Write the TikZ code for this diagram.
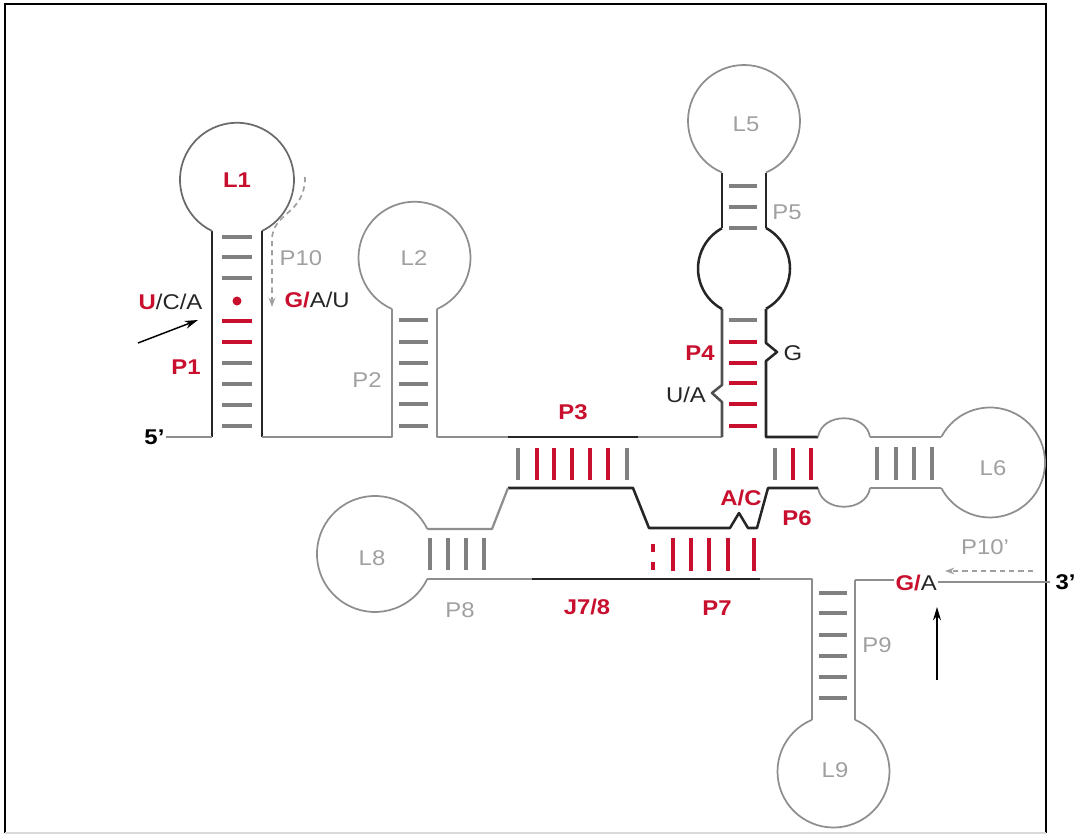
\documentclass[tikz,border=0pt]{standalone}
\usepackage{fontspec}
\setmainfont{Liberation Sans}[FakeStretch=1.12]
\usetikzlibrary{positioning, arrows.meta}
\definecolor{rred}{HTML}{C8102E}
\definecolor{lgrey}{HTML}{8E8E8E}
\definecolor{mgrey}{HTML}{6A6A6A}
\definecolor{tgrey}{HTML}{A0A0A0}
\definecolor{dgrey}{HTML}{262626}
\newcommand{\lblfont}{\fontsize{16}{18}\selectfont}

\begin{document}
\begin{tikzpicture}[x=0.75pt, y=-0.75pt,
  strand/.style={lgrey, line width=1.7pt, line join=round},
  core/.style={dgrey, line width=1.9pt, line join=round},
  loopline/.style={lgrey, line width=1.3pt},
  bp/.style={lgrey!90!black, line width=2.4pt},
  rbp/.style={rred, line width=2.6pt},
  glab/.style={font=\lblfont, text=tgrey, inner sep=1pt},
  rlab/.style={font=\lblfont\bfseries, text=rred, inner sep=1pt},
  klab/.style={font=\lblfont, text=dgrey, inner sep=1pt},
  endlab/.style={font=\lblfont\bfseries, text=black, inner sep=1pt},
  hint/.style={tgrey, line width=1.3pt, dash pattern=on 4pt off 3pt},
]
\useasboundingbox (0,0) rectangle (1081,835);
% frame
\draw[black, line width=1.6pt] (5,833) -- (5,4) -- (1046,4) -- (1046,833);
\draw[black!15, line width=1pt] (5,833) -- (1046,833);

% junction points
\coordinate (tail5) at (170,437);
\coordinate (p1l) at (212,437);
\coordinate (p1r) at (262,437);
\coordinate (p9top) at (855,580);
\coordinate (tail3) at (1050,582);

% P1 / L1
\draw[core] (p1l) -- (212,231);
\draw[mgrey, line width=1.3pt] (212,231) arc[start angle=116, end angle=424, radius=57];
\draw[core] (262,231) -- (p1r);
\foreach \y in {237,257,278,363,384,405,426} \draw[bp] (222,\y) -- (252,\y);
\foreach \y in {321,342} \draw[rbp] (222,\y) -- (252,\y);
\fill[rred] (237,301) circle[radius=4.5];

% P2 / L2
\draw[strand] (p1r) -- (392,437) -- (392,309);
\draw[loopline] (392,309) arc[start angle=113.7, end angle=426.3, radius=56];
\draw[strand] (437,309) -- (437,437) -- (508,437);
\foreach \y in {320,342,363,384,404,426} \draw[bp] (399,\y) -- (428,\y);

% P3 upper strand, P4, P5, L5
\draw[core] (508,437) -- (638,437);
\draw[strand] (638,437) -- (722,437);
\draw[core, dgrey!80] (722,437) -- (722,402) -- (712,393) -- (722,385) -- (722,309);
\draw[core] (722,309) arc[start angle=118.6, end angle=241.4, radius=46];
\draw[core] (722,228) -- (722,172.5);
\draw[loopline] (722,172.5) arc[start angle=113.13, end angle=426.87, radius=56];
\draw[core] (766,172.5) -- (766,228);
\draw[core] (766,228) arc[start angle=-61.4, end angle=61.4, radius=46];
\draw[core] (766,309) -- (766,343) -- (777,352) -- (766,361) -- (766,437) -- (818,437);
\foreach \y in {186,207,228,320} \draw[bp] (729,\y) -- (757,\y);
\foreach \y in {342,363,383,404,426} \draw[rbp] (729,\y) -- (757,\y);

% P6 / L6
\draw[loopline] (818,437) .. controls (822,412) and (866,412) .. (870,437);
\draw[strand] (870,437) -- (941.3,437);
\draw[loopline] (941.3,437) arc[start angle=207.6, end angle=512.4, radius=55];
\draw[strand] (941.3,488) -- (870,488);
\draw[loopline] (870,488) .. controls (866,513) and (822,513) .. (818,488);
\foreach \x in {877,896,914,932} \draw[bp] (\x,447) -- (\x,480);

% P3 lower strand, J6/7, P8 / L8
\draw[core] (818,488) -- (768,488) -- (757,528) -- (748,528) -- (739,513) -- (730,528)
  -- (649,528) -- (633,488) -- (508,488);
\draw[strand] (508,488) -- (492,529) -- (427.3,529);
\draw[loopline] (427.3,529) arc[start angle=-25.5, end angle=-334.5, radius=58];
\foreach \x in {430,448,466,484} \draw[bp] (\x,538) -- (\x,570);
\foreach \x in {518,627,775} \draw[bp] (\x,448) -- (\x,480);
\foreach \x in {537,554,572,590,608,793,811} \draw[rbp] (\x,448) -- (\x,480);

% J7/8, P7, P9 / L9
\draw[strand] (427.3,579) -- (532,579);
\draw[core] (532,579) -- (760,579);
\draw[strand] (760,579) -- (812,579) -- (812,719.8);
\draw[loopline] (812,719.8) arc[start angle=247.42, end angle=-67.42, radius=56];
\draw[strand] (855,719.8) -- (p9top);
\foreach \x in {673,691,709,728,754} \draw[rbp] (\x,538) -- (\x,571);
\fill[rred] (651,544) rectangle (655,552);
\fill[rred] (651,562) rectangle (655,570);
\foreach \y in {593,613,635,656,677,698} \draw[bp] (819,\y) -- (847,\y);

% labels
\node[rlab] (l1) at (237,180) {L1};
\node[glab] (l2) at (414,258) {L2};
\node[glab] (l5) at (746,124) {L5};
\node[glab] (l6) at (993,468) {L6};
\node[glab] (l8) at (372,558) {L8};
\node[glab] (l9) at (835,770) {L9};
\node[rlab] (p1) at (186,367) {P1};
\node[glab] (p2) at (367,380) {P2};
\node[rlab] (p3) at (573,412) {P3};
\node[rlab] (p4) at (700,353) {P4};
\node[glab] (p5) at (787,212) {P5};
\node[rlab] (p6) at (797,518) {P6};
\node[rlab] (p7) at (717,608) {P7};
\node[glab] (p8) at (460,610) {P8};
\node[glab] (p9) at (877,645) {P9};
\node[glab] (p10) at (301,258) {P10};
\node[rlab] (j78) at (587,607) {J7/8};
\node[rlab] (ac) at (741,498) {A/C};
\node[klab] (gsite) at (793,353) {G};
\node[klab] (ua) at (686,395) {U/A};
\node[klab, anchor=east] (uca) at (204,302) {\textcolor{rred}{\bfseries U}/C/A};
\node[klab, anchor=west] (gau) at (283,300) {\textcolor{rred}{\bfseries G/}A/U};
\node[klab, anchor=west] (ga) at (894,583) {\textcolor{rred}{\bfseries G/}A};
\node[endlab, left=3pt of tail5] (five) {5’};
\node[endlab, right=3pt of tail3] (three) {3’};
\node[glab] (p10b) at (985,547) {P10’};

% strand ends
\draw[strand] (five.east) -- (p1l);
\draw[strand] (p9top) -- (ga.west |- p9top);
\draw[strand] (ga.east |- tail3) -- (tail3);

% cleavage sites and P10 pairing
\coordinate (cut5) at (138,343);
\coordinate (cut3) at (937,680);
\draw[black, line width=1.1pt, -{Stealth[length=10pt,width=6pt]}] (cut5) -- (198,320);
\draw[black, line width=1.1pt, -{Stealth[length=10pt,width=6pt]}] (cut3) -- (937,607);
\draw[hint, -{Stealth[length=7pt,width=5pt]}] (305,177) .. controls (305,215) and (272,212) .. (272,240) -- (272,307);
\draw[hint, -{Stealth[length=7pt,width=5pt]}] (1033,571) -- (945,571);
\end{tikzpicture}
\end{document}
